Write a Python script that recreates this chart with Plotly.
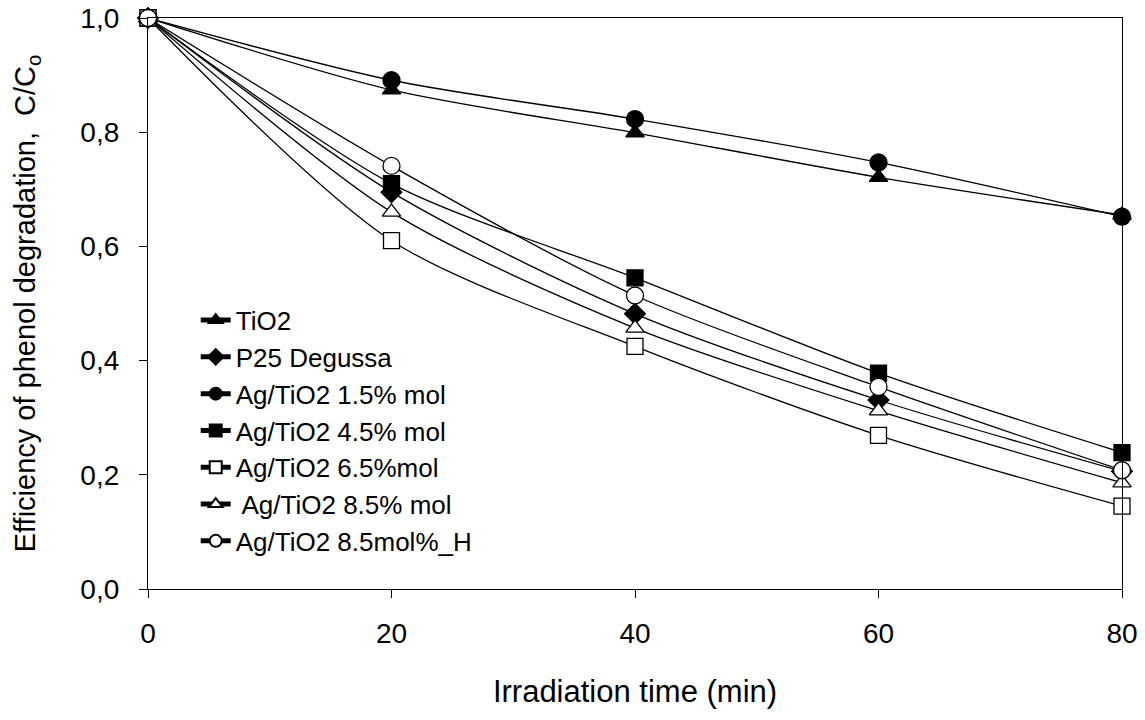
import plotly.graph_objects as go

time_min = [0, 20, 40, 60, 80]

names = ["TiO2", "P25 Degussa", "Ag/TiO2 1.5% mol", "Ag/TiO2 4.5% mol",
         "Ag/TiO2 6.5%mol", " Ag/TiO2 8.5% mol", "Ag/TiO2 8.5mol%_H"]

tio2 = [1.0, 0.874, 0.799, 0.721, 0.655]
p25 = [1.0, 0.695, 0.482, 0.331, 0.206]
ag15 = [1.0, 0.891, 0.823, 0.747, 0.652]
ag45 = [1.0, 0.710, 0.545, 0.378, 0.239]
ag65 = [1.0, 0.610, 0.425, 0.269, 0.145]
ag85 = [1.0, 0.660, 0.457, 0.312, 0.186]
ag85h = [1.0, 0.741, 0.514, 0.354, 0.208]

series = [tio2, p25, ag15, ag45, ag65, ag85, ag85h]
symbols = ["triangle-up", "diamond", "circle", "square", "square", "triangle-up", "circle"]
fills = ["black", "black", "black", "black", "white", "white", "white"]
sizes = [16, 16, 17, 16, 16, 16, 17]

FONT = "Liberation Sans, Arial, sans-serif"

fig = go.Figure()
for name, ys, sym, fc, sz in zip(names, series, symbols, fills, sizes):
    fig.add_trace(go.Scatter(
        x=time_min, y=ys, name=name, mode="lines+markers",
        line=dict(color="black", width=1.3, shape="spline", smoothing=0.8),
        marker=dict(symbol=sym, size=sz, color=fc, line=dict(color="black", width=1.3)),
        cliponaxis=False,
    ))

fig.update_layout(
    width=1145, height=720,
    margin=dict(l=148, r=23, t=18, b=131),
    paper_bgcolor="white", plot_bgcolor="white",
    separators=",.",
    font=dict(family=FONT, color="black", size=24),
    showlegend=True,
    legend=dict(x=0.049, y=0.512, xanchor="left", yanchor="top",
                bgcolor="rgba(0,0,0,0)", font=dict(size=26, family=FONT),
                tracegroupgap=0, itemsizing="constant"),
    xaxis=dict(range=[0, 80], tickvals=[0, 20, 40, 60, 80], ticks="outside", ticklen=8,
               tickwidth=1.3, tickcolor="black", showline=True, linecolor="black", linewidth=1.3,
               mirror=True, showgrid=False, zeroline=False, automargin=False,
               tickfont=dict(size=28, family=FONT), ticklabelstandoff=11,
               title=dict(text="Irradiation time (min)", font=dict(size=31, family=FONT), standoff=32)),
    yaxis=dict(range=[0, 1.0], tickvals=[0, 0.2, 0.4, 0.6, 0.8, 1.0], tickformat=".1f",
               ticks="outside", ticklen=8,
               tickwidth=1.3, tickcolor="black", showline=True, linecolor="black", linewidth=1.3,
               mirror=True, showgrid=False, zeroline=False, automargin=False,
               tickfont=dict(size=28, family=FONT), ticklabelstandoff=14,
               title=dict(text="Efficiency of phenol degradation,  C/C<sub>o</sub>",
                          font=dict(size=29, family=FONT), standoff=36)),
)

fig.write_html("out.html", config={"displayModeBar": False},
               post_script="document.body.style.margin='0px';document.body.style.padding='0px';")
